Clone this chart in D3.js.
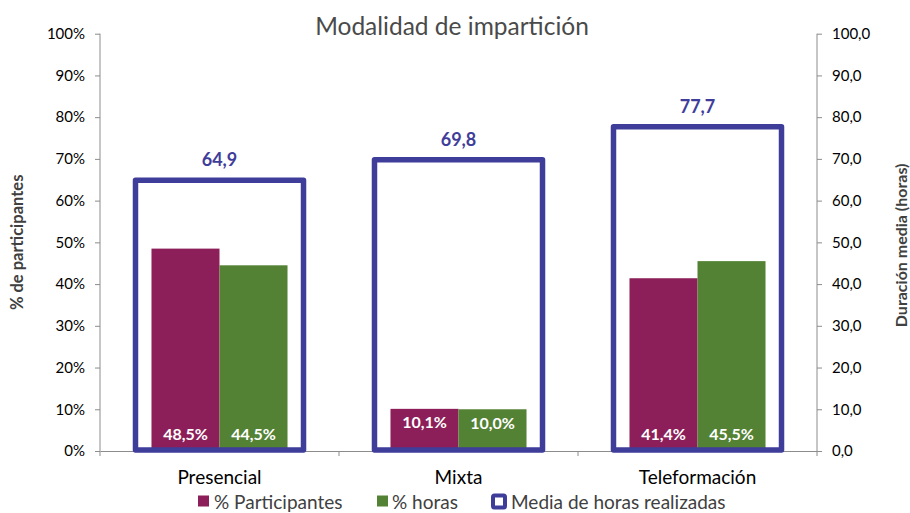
<!DOCTYPE html>
<html>
<head>
<meta charset="utf-8">
<script src="https://cdn.jsdelivr.net/npm/d3@7"></script>
<style>
  body { margin: 0; background: #fff; }
  text { font-family: Lato, "Open Sans", sans-serif; }
</style>
</head>
<body>
<script>
var categories = ["Presencial", "Mixta", "Teleformación"];
var participantes = [48.5, 10.1, 41.4];
var horas = [44.5, 10.0, 45.5];
var mediaHoras = [64.9, 69.8, 77.7];
var leftTicks = [0, 10, 20, 30, 40, 50, 60, 70, 80, 90, 100];
var rightTicks = [0, 10, 20, 30, 40, 50, 60, 70, 80, 90, 100];
var seriesNames = ["% Participantes", "% horas", "Media de horas realizadas"];

var svgWidth = 910;
var svgHeight = 513;
var margin = { top: 33.7, right: 93, bottom: 62, left: 100 };

var colPart = "#8C1F59";
var colHoras = "#548235";
var colMedia = "#3F3D9A";
var axisColor = "#8C8C8C";

var svg = d3.select("body")
        .append("svg")
        .attr("width", svgWidth)
        .attr("height", svgHeight);

var x0 = d3.scaleBand()
        .domain(categories)
        .range([margin.left, svgWidth - margin.right]);

var x1 = d3.scaleBand()
        .domain(["p", "h"])
        .range([0, x0.bandwidth()])
        .paddingOuter(0.757);

var yLeft = d3.scaleLinear()
        .domain([0, 100])
        .range([svgHeight - margin.bottom, margin.top]);

var yRight = d3.scaleLinear()
        .domain([0, 100])
        .range([svgHeight - margin.bottom, margin.top]);

var fmt = function (v) { return v.toFixed(1).replace(".", ","); };

// title
svg.append("text")
        .attr("x", 452)
        .attr("y", 25)
        .attr("text-anchor", "middle")
        .attr("dominant-baseline", "central")
        .style("font-size", "24.5px")
        .style("fill", "#4a4a4a")
        .text("Modalidad de impartición");

// left axis
var yAxisL = d3.axisLeft(yLeft)
        .tickValues(leftTicks)
        .tickSize(5)
        .tickPadding(10)
        .tickFormat(function (d) { return d + "%"; });

var gL = svg.append("g")
        .attr("transform", "translate(" + margin.left + ",0)")
        .call(yAxisL);

// right axis
var yAxisR = d3.axisRight(yRight)
        .tickValues(rightTicks)
        .tickSize(5)
        .tickPadding(10)
        .tickFormat(fmt);

var gR = svg.append("g")
        .attr("transform", "translate(" + (svgWidth - margin.right) + ",0)")
        .call(yAxisR);

// bottom axis (ticks between categories)
var gX = svg.append("g")
        .attr("transform", "translate(0," + (svgHeight - margin.bottom) + ")")
        .call(d3.axisBottom(x0).tickSize(0).tickPadding(20));

gX.selectAll(".tick line").remove();
gX.selectAll(".sep")
        .data(d3.range(categories.length + 1))
        .enter()
        .append("line")
        .attr("x1", function (i) { return margin.left + i * x0.step(); })
        .attr("x2", function (i) { return margin.left + i * x0.step(); })
        .attr("y1", 0)
        .attr("y2", 5)
        .attr("stroke", axisColor);

[gL, gR, gX].forEach(function (g) {
    g.select(".domain").attr("stroke", axisColor);
    g.selectAll(".tick line").attr("stroke", axisColor);
    g.selectAll("text").style("fill", "#000").style("font-family", "Lato, sans-serif");
});
gL.selectAll("text").style("font-size", "15px");
gR.selectAll("text").style("font-size", "15px");
gX.selectAll("text").style("font-size", "19px");
gL.select(".domain").attr("d", "M0," + yLeft(100) + "V" + yLeft(0));
gR.select(".domain").attr("d", "M0," + yRight(100) + "V" + yRight(0));

// axis titles
svg.append("text")
        .attr("transform", "translate(17," + (yLeft(50)) + ") rotate(-90)")
        .attr("text-anchor", "middle")
        .attr("dominant-baseline", "central")
        .style("font-size", "16.5px")
        .style("font-weight", "bold")
        .style("fill", "#404040")
        .text("% de participantes");

svg.append("text")
        .attr("transform", "translate(900," + (yRight(50) + 3) + ") rotate(-90)")
        .attr("text-anchor", "middle")
        .attr("dominant-baseline", "central")
        .style("font-size", "16px")
        .style("font-weight", "bold")
        .style("fill", "#404040")
        .text("Duración media (horas)");

// bars
var barData = [];
categories.forEach(function (c, i) {
    barData.push({ cat: c, key: "p", value: participantes[i], color: colPart });
    barData.push({ cat: c, key: "h", value: horas[i], color: colHoras });
});

svg.selectAll("rect.bar")
        .data(barData)
        .enter()
        .append("rect")
        .attr("class", "bar")
        .attr("x", function (d) { return x0(d.cat) + x1(d.key); })
        .attr("y", function (d) { return yLeft(d.value); })
        .attr("width", x1.bandwidth())
        .attr("height", function (d) { return yLeft(0) - yLeft(d.value); })
        .attr("fill", function (d) { return d.color; });

svg.selectAll("text.barlabel")
        .data(barData)
        .enter()
        .append("text")
        .attr("class", "barlabel")
        .attr("x", function (d) { return x0(d.cat) + x1(d.key) + x1.bandwidth() / 2; })
        .attr("y", function (d) { return d.value < 15 ? yLeft(d.value) + 13 : yLeft(0) - 18; })
        .attr("text-anchor", "middle")
        .attr("dominant-baseline", "central")
        .style("font-size", "16px")
        .style("font-weight", "bold")
        .style("fill", "#fff")
        .text(function (d) { return fmt(d.value) + "%"; });

// media boxes (secondary axis)
var boxW = x0.bandwidth() * 0.703;

svg.selectAll("rect.media")
        .data(mediaHoras)
        .enter()
        .append("rect")
        .attr("class", "media")
        .attr("x", function (d, i) { return x0(categories[i]) + (x0.bandwidth() - boxW) / 2; })
        .attr("y", function (d) { return yRight(d); })
        .attr("width", boxW)
        .attr("height", function (d) { return yRight(0) - yRight(d) - 1; })
        .attr("fill", "none")
        .attr("stroke", colMedia)
        .attr("stroke-width", 5.5)
        .attr("stroke-linejoin", "round");

svg.selectAll("text.medialabel")
        .data(mediaHoras)
        .enter()
        .append("text")
        .attr("class", "medialabel")
        .attr("x", function (d, i) { return x0(categories[i]) + x0.bandwidth() / 2; })
        .attr("y", function (d) { return yRight(d) - 21; })
        .attr("text-anchor", "middle")
        .attr("dominant-baseline", "central")
        .style("font-size", "18px")
        .style("font-weight", "bold")
        .style("fill", colMedia)
        .text(fmt);

// legend
var legend = svg.append("g").attr("transform", "translate(0,501)");
var legX = [198, 377, 491];

legend.append("rect").attr("x", legX[0]).attr("y", -5.5).attr("width", 11).attr("height", 11).attr("fill", colPart);
legend.append("rect").attr("x", legX[1]).attr("y", -5.5).attr("width", 11).attr("height", 11).attr("fill", colHoras);
legend.append("rect").attr("x", legX[2] + 2).attr("y", -5.5).attr("width", 12).attr("height", 12)
        .attr("rx", 1.5).attr("fill", "#fff").attr("stroke", colMedia).attr("stroke-width", 4);

legend.selectAll("text")
        .data(seriesNames)
        .enter()
        .append("text")
        .attr("x", function (d, i) { return [214, 392, 511][i]; })
        .attr("y", 0)
        .attr("dominant-baseline", "central")
        .style("font-size", "19px")
        .style("fill", "#404040")
        .text(function (d) { return d; });
</script>
</body>
</html>
